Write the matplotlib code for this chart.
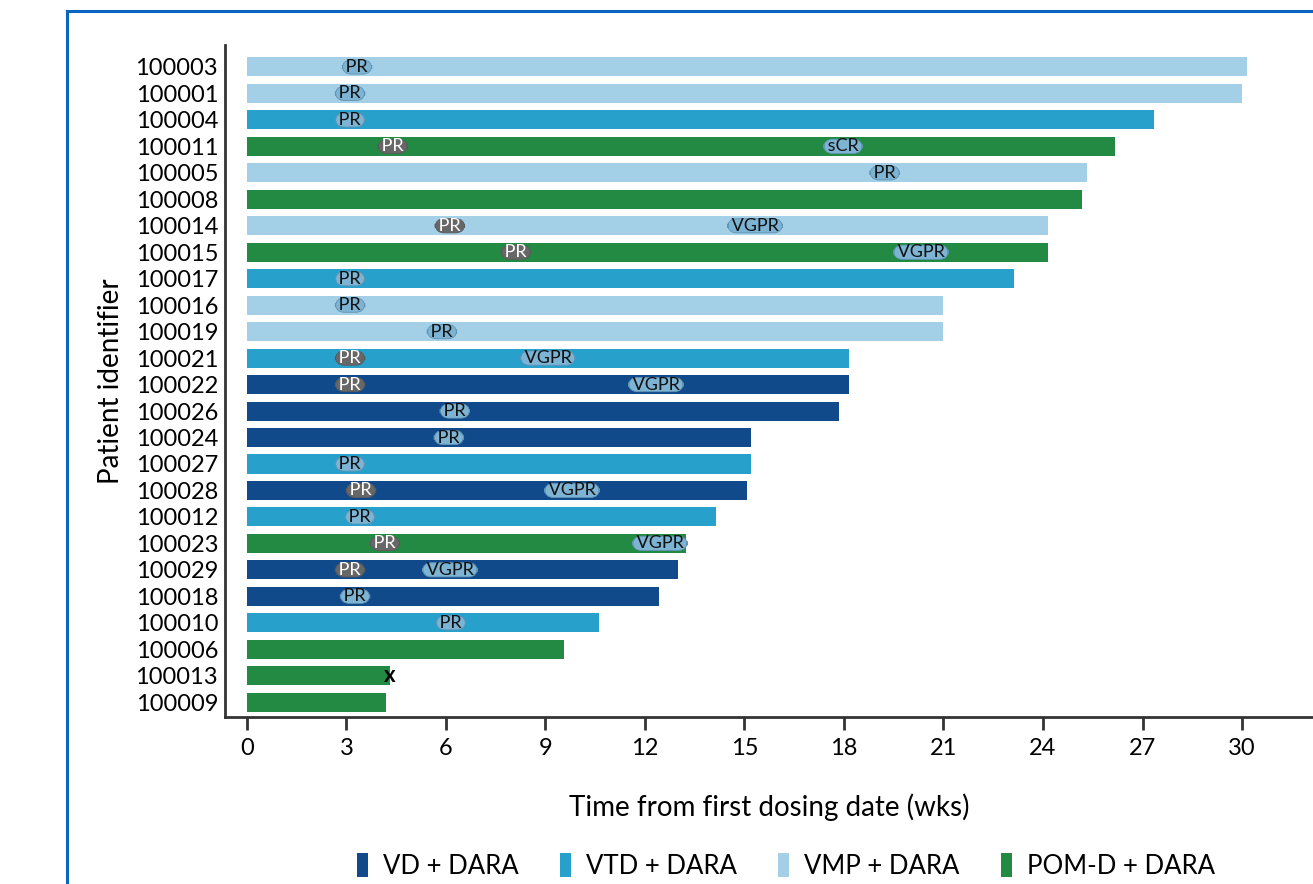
#!/usr/bin/env python
# -*- coding: utf-8 -*-
# swimmer plot: time on treatment per patient with response markers

import numpy as np
import matplotlib
matplotlib.use("Agg")
import matplotlib.pyplot as plt
from matplotlib.patches import Patch
from matplotlib.lines import Line2D

plt.rcParams['font.family'] = ['Lato', 'DejaVu Sans']

patients = ["100003", "100001", "100004", "100011", "100005", "100008", "100014",
            "100015", "100017", "100016", "100019", "100021", "100022", "100026",
            "100024", "100027", "100028", "100012", "100023", "100029", "100018",
            "100010", "100006", "100013", "100009"]
regimen = ["VMP", "VMP", "VTD", "POM", "VMP", "POM", "VMP",
           "POM", "VTD", "VMP", "VMP", "VTD", "VD", "VD",
           "VD", "VTD", "VD", "VTD", "POM", "VD", "VD",
           "VTD", "POM", "POM", "POM"]
weeks = [30.15, 30.0, 27.34, 26.17, 25.32, 25.17, 24.15,
         24.15, 23.12, 20.98, 20.98, 18.15, 18.15, 17.85,
         15.19, 15.19, 15.07, 14.14, 13.23, 12.99, 12.42,
         10.61, 9.56, 4.31, 4.19]

# response events: patient, label, week, confirmed (blue) / unconfirmed (grey)
resp_patient = ["100003", "100001", "100004", "100011", "100011", "100005",
                "100014", "100014", "100015", "100015", "100017", "100016",
                "100019", "100021", "100021", "100022", "100022", "100026",
                "100024", "100027", "100028", "100028", "100012", "100023",
                "100023", "100029", "100029", "100018", "100010"]
resp_label = ["PR", "PR", "PR", "PR", "sCR", "PR",
              "PR", "VGPR", "PR", "VGPR", "PR", "PR",
              "PR", "PR", "VGPR", "PR", "VGPR", "PR",
              "PR", "PR", "PR", "VGPR", "PR", "PR",
              "VGPR", "PR", "VGPR", "PR", "PR"]
resp_week = [3.32, 3.11, 3.11, 4.40, 17.97, 19.23,
             6.12, 15.32, 8.11, 20.32, 3.11, 3.11,
             5.88, 3.11, 9.07, 3.11, 12.33, 6.27,
             6.09, 3.11, 3.44, 9.80, 3.41, 4.16,
             12.45, 3.11, 6.12, 3.26, 6.15]
resp_confirmed = [True, True, True, False, True, True,
                  False, True, False, True, True, True,
                  True, False, True, False, True, True,
                  True, True, False, True, True, False,
                  True, False, True, True, True]

# discontinuation marker
stop_patient = ["100013"]
stop_week = [4.31]

legend_keys = ["VD", "VTD", "VMP", "POM"]
legend_labels = ["VD + DARA", "VTD + DARA", "VMP + DARA", "POM-D + DARA"]
colors = {"VD": "#114a8b", "VTD": "#27a0cc", "VMP": "#a4d0e7", "POM": "#238a43"}


def main():
    fig = plt.figure(figsize=(13.13, 8.84), dpi=100)
    ax = fig.add_axes([225 / 1313, 1 - 717 / 884, 1 - 225 / 1313, (717 - 45) / 884])

    ypos = np.arange(len(patients))
    ax.barh(ypos, weeks, height=0.72, color=[colors[r] for r in regimen], zorder=2)

    row = {p: i for i, p in enumerate(patients)}
    for p, lab, w, conf in zip(resp_patient, resp_label, resp_week, resp_confirmed):
        fc = "#7db3d3" if conf else "#676767"
        tc = "#111111" if conf else "white"
        ax.text(w, row[p], " " + lab + " ", ha="center", va="center", fontsize=13,
                color=tc, zorder=4,
                bbox=dict(boxstyle="round,pad=-0.05,rounding_size=0.5", fc=fc,
                          ec="#5f93b3" if conf else "#5a5a5a", lw=0.6))
    for p, w in zip(stop_patient, stop_week):
        ax.text(w, row[p], "x", ha="center", va="center", fontsize=16,
                fontweight="bold", color="black", zorder=4)

    ax.set_ylim(24.56, -0.83)
    ax.set_xlim(-0.66, 32.14)
    ax.set_yticks(ypos)
    ax.set_yticklabels(patients, fontsize=17)
    ax.tick_params(axis="y", length=0, pad=5)
    ax.set_xticks(np.arange(0, 31, 3))
    ax.tick_params(axis="x", length=9, width=2, labelsize=17, pad=6, color="#333333")
    ax.spines["top"].set_visible(False)
    ax.spines["right"].set_visible(False)
    for s in ("left", "bottom"):
        ax.spines[s].set_linewidth(2)
        ax.spines[s].set_color("#333333")
    ax.set_xlabel("Time from first dosing date (wks)", fontsize=20, labelpad=25)
    ax.set_ylabel("Patient identifier", fontsize=20, labelpad=8)

    handles = [Patch(facecolor=colors[k], edgecolor="none") for k in legend_keys]
    fig.legend(handles, legend_labels, ncol=4, loc="center",
               bbox_to_anchor=(786 / 1313, 1 - 866 / 884), frameon=False,
               fontsize=18.5, handlelength=0.42, handleheight=1.05, columnspacing=1.6,
               handletextpad=0.6)

    # blue frame around the panel
    fx = 66.5 / 1313
    fy = 1 - 10.5 / 884
    fig.add_artist(Line2D([fx, fx], [0, fy], color="#0a64c2", lw=2.2,
                          transform=fig.transFigure))
    fig.add_artist(Line2D([fx, 1], [fy, fy], color="#0a64c2", lw=2.2,
                          transform=fig.transFigure))

    fig.savefig("out.png", dpi=100)


if __name__ == "__main__":
    main()
